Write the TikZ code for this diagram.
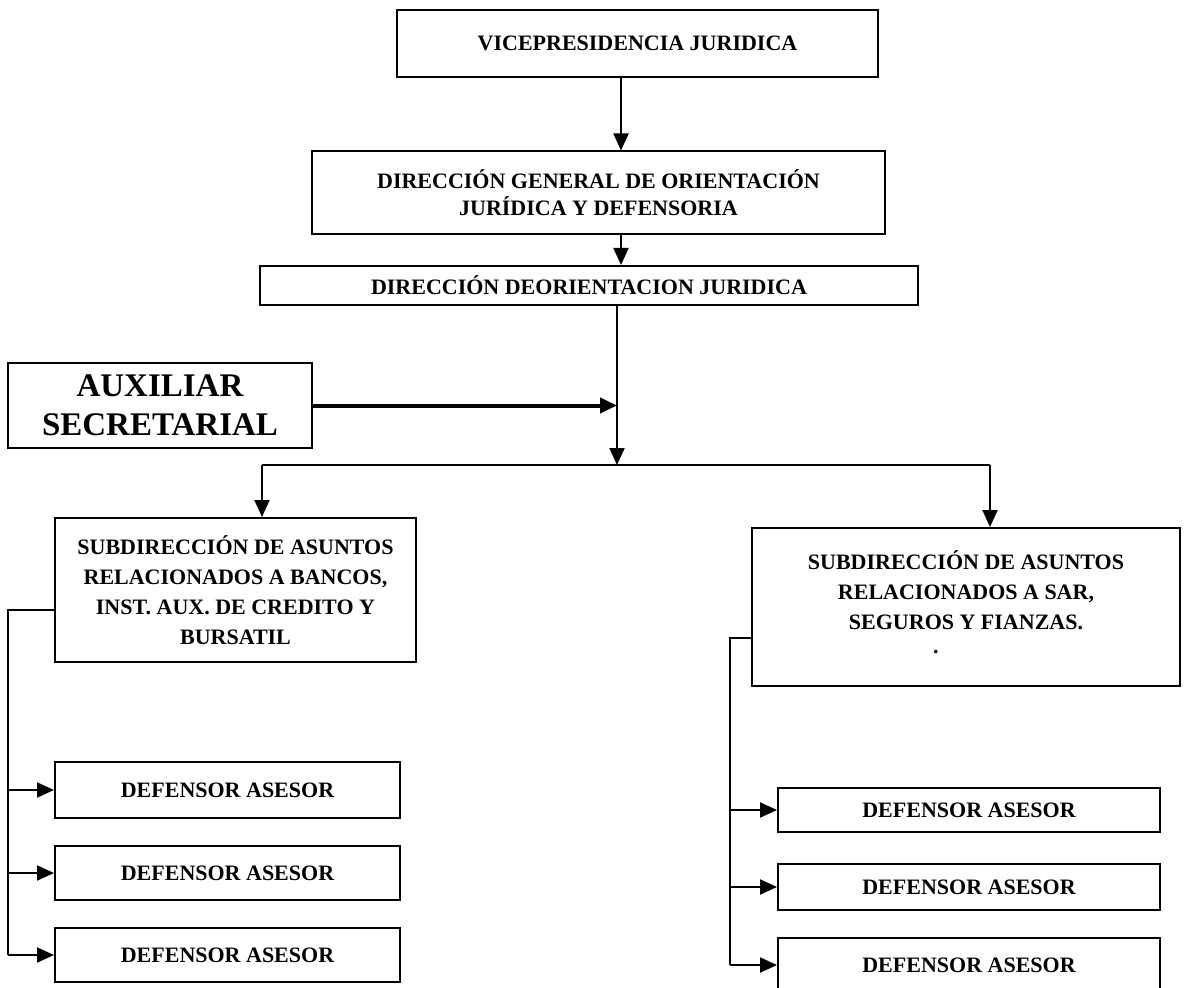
\documentclass[tikz,border=0pt]{standalone}
\usepackage{fontspec}
\setmainfont{Liberation Serif}
\usetikzlibrary{arrows.meta}
\begin{document}
\begin{tikzpicture}[x=0.5pt,y=-0.5pt,
  box/.style={draw,line width=1pt,inner sep=0pt,align=center,
    font=\bfseries\fontsize{11pt}{15pt}\selectfont},
  sz/.style 2 args={minimum width=#1*0.5pt,minimum height=#2*0.5pt},
  bigbox/.style={box,font=\bfseries\fontsize{16.5pt}{19.5pt}\selectfont},
  link/.style={line width=1pt},
  arr/.style={link,-{Triangle[length=8.5pt,width=7.5pt]}},
  heavy/.style={line width=2pt,-{Triangle[length=8.5pt,width=7.5pt]}}]
\path[use as bounding box,fill=white] (0,0) rectangle (1202,988);

% upper chain
\node[box,sz={481}{67}] (vp) at (637.5,43.5) {VICEPRESIDENCIA JURIDICA};
\node[box,sz={573}{83},font=\bfseries\fontsize{11pt}{13.5pt}\selectfont] (dg) at (598.5,193)
  {DIRECCIÓN GENERAL DE ORIENTACIÓN\\JURÍDICA Y DEFENSORIA};
\node[box,sz={658}{39}] (dj) at (589,285.5) {DIRECCIÓN DEORIENTACION JURIDICA};
\node[bigbox,sz={304}{85}] (aux) at (160,405.5) {AUXILIAR\\SECRETARIAL};

% subdirections
\node[box,sz={361}{144}] (ls) at (235.5,590)
  {SUBDIRECCIÓN DE ASUNTOS\\RELACIONADOS A BANCOS,\\INST. AUX. DE CREDITO Y\\BURSATIL};
\node[box,sz={428}{158}] (rs) at (966,607)
  {SUBDIRECCIÓN DE ASUNTOS\\RELACIONADOS A SAR,\\SEGUROS Y FIANZAS.\\[-3pt]\makebox[33pt][l]{.}\\[-10pt]\mbox{}};

% advisers
\node[box,sz={345}{56}] (l1) at (227.5,790) {DEFENSOR ASESOR};
\node[box,sz={345}{54}] (l2) at (227.5,873) {DEFENSOR ASESOR};
\node[box,sz={345}{54}] (l3) at (227.5,955) {DEFENSOR ASESOR};
\node[box,sz={382}{44}] (r1) at (969,810) {DEFENSOR ASESOR};
\node[box,sz={382}{46}] (r2) at (969,887) {DEFENSOR ASESOR};
\node[box,sz={382}{54}] (r3) at (969,965) {DEFENSOR ASESOR};

% spine and branches
\coordinate (sp) at (621,0);
\coordinate (j) at (617,465);
\coordinate (lb) at (262,465);
\coordinate (rb) at (990,465);
\coordinate (lt) at (8,610);
\coordinate (rt) at (730,638);

\draw[arr] (vp.south -| sp) -- (dg.north -| sp);
\draw[arr] (dg.south -| sp) -- (dj.north -| sp);
\draw[arr] (dj.south -| j) -- (j);
\draw[heavy] (aux.east) -- (aux.east -| j);
\draw[link] (lb) -- (rb);
\draw[arr] (lb) -- (lb |- ls.north);
\draw[arr] (rb) -- (rb |- rs.north);

\draw[link] (ls.west |- lt) -- (lt) -- (lt |- l3.west);
\draw[arr] (lt |- l1.west) -- (l1.west);
\draw[arr] (lt |- l2.west) -- (l2.west);
\draw[arr] (lt |- l3.west) -- (l3.west);

\draw[link] (rs.west |- rt) -- (rt) -- (rt |- r3.west);
\draw[arr] (rt |- r1.west) -- (r1.west);
\draw[arr] (rt |- r2.west) -- (r2.west);
\draw[arr] (rt |- r3.west) -- (r3.west);
\end{tikzpicture}
\end{document}
